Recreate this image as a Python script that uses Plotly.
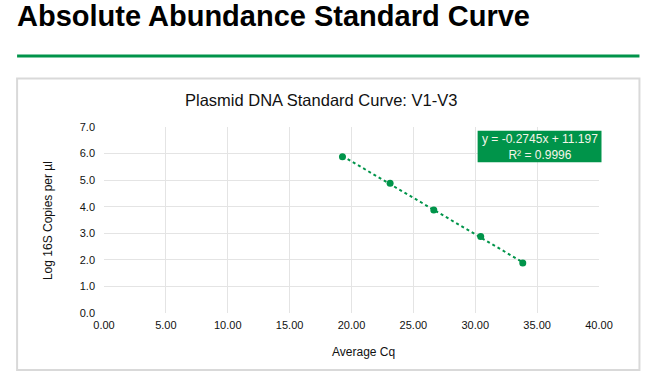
import plotly.graph_objects as go

# ---- data ----
avg_cq = [19.27, 23.12, 26.65, 30.44, 33.84]
log_copies = [5.88, 4.88, 3.88, 2.88, 1.88]
slope = -0.2745
intercept = 11.197
r_squared = 0.9996
x_ticks = [0, 5, 10, 15, 20, 25, 30, 35, 40]
y_ticks = [0, 1, 2, 3, 4, 5, 6, 7]

GREEN = "#00944A"
FONT = "Liberation Sans, Arial, sans-serif"
W, H = 662, 385

trend_x = [min(avg_cq), max(avg_cq)]
trend_y = [slope * v + intercept for v in trend_x]

fig = go.Figure()
fig.add_trace(go.Scatter(x=trend_x, y=trend_y, mode="lines",
                         line=dict(color=GREEN, width=2, dash="dot"),
                         hoverinfo="skip", showlegend=False))
fig.add_trace(go.Scatter(x=avg_cq, y=log_copies, mode="markers",
                         marker=dict(color=GREEN, size=7),
                         showlegend=False))

L, R, T, B = 104, 599.5, 127.3, 312.7

def px(xp):
    return (xp - L) / (R - L)

def py(yp):
    return (B - yp) / (B - T)

fig.update_layout(
    width=W, height=H,
    margin=dict(l=L, r=W - R, t=T, b=H - B, autoexpand=False),
    paper_bgcolor="white", plot_bgcolor="white",
    font=dict(family=FONT, color="#111111", size=11),
    showlegend=False,
    xaxis=dict(range=[0, 40], tickvals=x_ticks,
               ticktext=[f"{v:.2f}" for v in x_ticks],
               showgrid=True, gridcolor="#E4E4E4", gridwidth=1,
               zeroline=False, showline=False, ticks="",
               ticklabelstandoff=4,
               tickfont=dict(size=11, color="#111111", family=FONT)),
    yaxis=dict(range=[0, 7], tickvals=y_ticks,
               ticktext=[f"{v:.1f}" for v in y_ticks],
               showgrid=True, gridcolor="#E4E4E4", gridwidth=1,
               zeroline=False, showline=False, ticks="",
               ticklabelstandoff=8,
               tickfont=dict(size=11, color="#111111", family=FONT)),
    shapes=[
        dict(type="line", xref="paper", yref="paper",
             x0=px(17), x1=px(640), y0=py(56.5), y1=py(56.5),
             line=dict(color=GREEN, width=3)),
        dict(type="rect", xref="paper", yref="paper",
             x0=px(17), x1=px(640), y0=py(79), y1=py(369.5),
             line=dict(color="#D9D9D9", width=2), layer="below"),
        dict(type="rect", xref="paper", yref="paper",
             x0=px(478), x1=px(602), y0=py(131), y1=py(162.5),
             fillcolor=GREEN, line=dict(width=0)),
    ],
    annotations=[
        dict(text="<b>Absolute Abundance Standard Curve</b>",
             xref="paper", yref="paper", x=px(15), y=py(16.5),
             xanchor="left", yanchor="middle", showarrow=False,
             font=dict(size=29, color="black", family=FONT)),
        dict(text="Plasmid DNA Standard Curve: V1-V3",
             xref="paper", yref="paper", x=px(321.5), y=py(100),
             xanchor="center", yanchor="middle", showarrow=False,
             font=dict(size=16.5, color="#111111", family=FONT)),
        dict(text="Log 16S Copies per µl",
             xref="paper", yref="paper", x=px(48), y=py(221),
             xanchor="center", yanchor="middle", showarrow=False,
             textangle=-90,
             font=dict(size=12, color="#111111", family=FONT)),
        dict(text="Average Cq",
             xref="paper", yref="paper", x=px(364), y=py(352),
             xanchor="center", yanchor="middle", showarrow=False,
             font=dict(size=12, color="#111111", family=FONT)),
        dict(text=f"y = {slope:.4f}x + {intercept:.3f}<br>R² = {r_squared:.4f}",
             xref="paper", yref="paper", x=px(540), y=py(147),
             xanchor="center", yanchor="middle", showarrow=False,
             align="center",
             font=dict(size=12, color="#F4F4E8", family=FONT)),
    ],
)

fig.write_html("out.html",
               config={"displayModeBar": False},
               post_script="document.body.style.margin='0';")
